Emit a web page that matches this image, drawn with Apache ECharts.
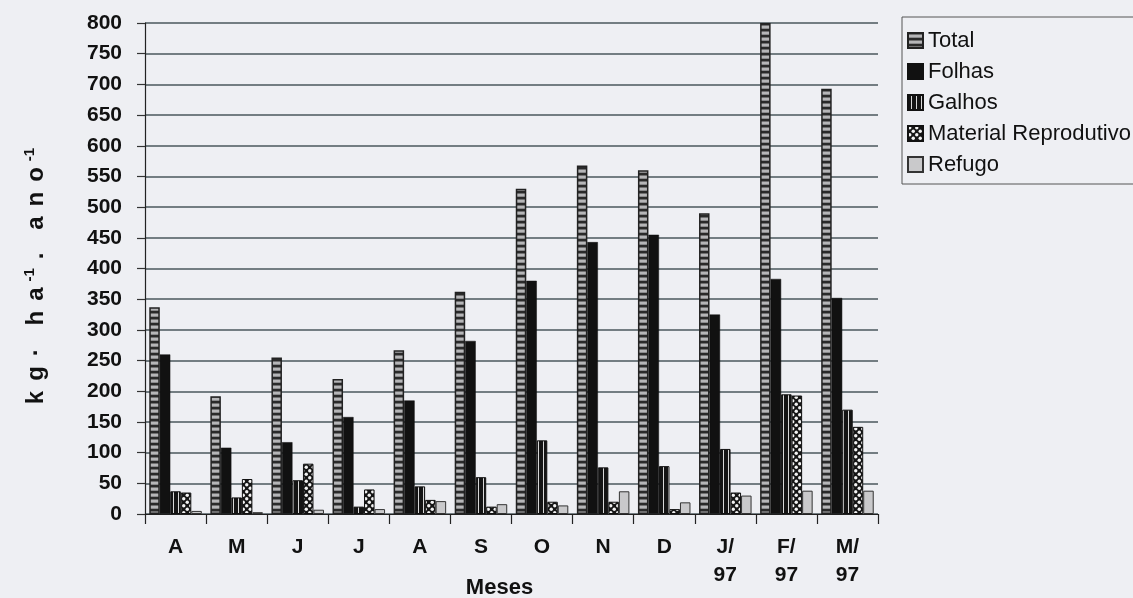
<!DOCTYPE html>
<html>
<head>
<meta charset="utf-8">
<title>Serapilheira mensal</title>
<script src="https://cdn.jsdelivr.net/npm/echarts@6/dist/echarts.min.js"></script>
<style>
  html, body { margin: 0; padding: 0; background: #eeeff3; }
  #chart { width: 1133px; height: 598px; }
</style>
</head>
<body>
<div id="chart"></div>
<script>
// Months (Apr 1996 - Mar 1997)
const categories = ['A', 'M', 'J', 'J', 'A', 'S', 'O', 'N', 'D', 'J/\n97', 'F/\n97', 'M/\n97'];

// Litter fractions, kg ha-1 ano-1
const total    = [337, 192, 255, 220, 267, 362, 530, 568, 560, 490, 800, 693];
const folhas   = [260, 108, 117, 158, 185, 282, 380, 443, 455, 325, 383, 352];
const galhos   = [ 37,  27,  55,  12,  45,  60, 120,  76,  78, 106, 195, 170];
const material = [ 35,  57,  82,  40,  23,  12,  20,  20,   8,  35, 193, 142];
const refugo   = [  5,   3,   7,   8,  21,  16,  14,  37,  19,  30,  38,  38];

const seriesNames = ['Total', 'Folhas', 'Galhos', 'Material Reprodutivo', 'Refugo'];

// Y axis range
const yMin = 0, yMax = 800, yStep = 50;

function makePattern(w, h, draw) {
  const c = document.createElement('canvas');
  c.width = w; c.height = h;
  draw(c.getContext('2d'), w, h);
  return c;
}

// Total: stacked grey dashes on dark ground
const totalFill = makePattern(4, 6, (ctx, w, h) => {
  ctx.fillStyle = '#2a2a2a'; ctx.fillRect(0, 0, w, h);
  ctx.fillStyle = '#b6b6b8'; ctx.fillRect(0, 1.5, w, 3.2);
});
// Galhos: black with thin light vertical lines
const galhosFill = makePattern(5, 4, (ctx, w, h) => {
  ctx.fillStyle = '#141414'; ctx.fillRect(0, 0, w, h);
  ctx.fillStyle = '#d8d8d8'; ctx.fillRect(3, 0, 1, h);
});
// Material reprodutivo: white dots in a diagonal lattice
const materialFill = makePattern(7, 7, (ctx, w, h) => {
  ctx.fillStyle = '#151515'; ctx.fillRect(0, 0, w, h);
  ctx.fillStyle = '#f2f2f2';
  [[1.75, 1.75], [5.25, 5.25]].forEach(([x, y]) => {
    ctx.beginPath(); ctx.arc(x, y, 1.7, 0, Math.PI * 2); ctx.fill();
  });
});

const styles = [
  { color: { image: totalFill, repeat: 'repeat' }, borderColor: '#222', borderWidth: 1.5 },
  { color: '#111111', borderColor: '#111', borderWidth: 0.5 },
  { color: { image: galhosFill, repeat: 'repeat' }, borderColor: '#111', borderWidth: 1 },
  { color: { image: materialFill, repeat: 'repeat' }, borderColor: '#111', borderWidth: 1 },
  { color: '#c9c9cb', borderColor: '#333', borderWidth: 1 }
];
const values = [total, folhas, galhos, material, refugo];

// Unit label, letter-spaced, with raised exponents
const unitName = '{l|k}{l|g}{l|·}{w| }{l|h}{l|a}{u|-1}{l|.}{w| }{l|a}{l|n}{l|o}{u|-1}';

const chart = echarts.init(document.getElementById('chart'), null, { renderer: 'canvas' });

chart.setOption({
  animation: false,
  backgroundColor: '#eeeff3',
  textStyle: { fontFamily: '"Liberation Sans", Arial, sans-serif' },
  grid: { left: 145, right: 255, top: 23, bottom: 84, outerBoundsMode: 'none', containLabel: false },
  legend: {
    orient: 'vertical',
    left: 902,
    top: 17,
    icon: 'rect',
    itemWidth: 15,
    itemHeight: 15,
    itemGap: 8,
    padding: [12, 6, 8, 5],
    borderColor: '#555',
    borderWidth: 1,
    textStyle: { fontSize: 22, color: '#111', lineHeight: 23 },
    data: seriesNames
  },
  xAxis: {
    type: 'category',
    data: categories,
    name: 'Meses',
    nameLocation: 'middle',
    nameGap: 63,
    nameMoveOverlap: false,
    nameTextStyle: { fontSize: 22, fontWeight: 'bold', color: '#111', padding: [0, 24, 0, 0] },
    axisLine: { show: true, lineStyle: { color: '#222', width: 1.2 } },
    axisTick: { show: true, length: 10, interval: 0, lineStyle: { color: '#222', width: 1.2 } },
    axisLabel: { fontSize: 21, fontWeight: 'bold', color: '#111', margin: 19, lineHeight: 28, interval: 0 }
  },
  yAxis: {
    type: 'value',
    min: yMin,
    max: yMax,
    interval: yStep,
    name: unitName,
    nameLocation: 'middle',
    nameRotate: 90,
    nameGap: 95,
    nameMoveOverlap: false,
    nameTextStyle: {
      color: '#111',
      padding: [0, 16, 0, 0],
      rich: {
        l: { fontSize: 24, fontWeight: 'bold', color: '#111', lineHeight: 28, padding: [0, 5, 0, 5] },
        w: { fontSize: 24, fontWeight: 'bold', lineHeight: 28, padding: [0, 3, 0, 3] },
        u: { fontSize: 15, fontWeight: 'bold', color: '#111', lineHeight: 15, verticalAlign: 'top', padding: [0, 4, 0, 1] }
      }
    },
    axisLine: { show: true, lineStyle: { color: '#222', width: 1.2 } },
    axisTick: { show: true, length: 8, lineStyle: { color: '#333', width: 1.2 } },
    axisLabel: { fontSize: 21, fontWeight: 'bold', color: '#111', margin: 23 },
    splitLine: { show: true, lineStyle: { color: '#4a575c', width: 1.5 } }
  },
  series: seriesNames.map((name, i) => ({
    name: name,
    type: 'bar',
    data: values[i],
    barGap: '0%',
    barCategoryGap: '14%',
    itemStyle: styles[i]
  }))
});
</script>
</body>
</html>
